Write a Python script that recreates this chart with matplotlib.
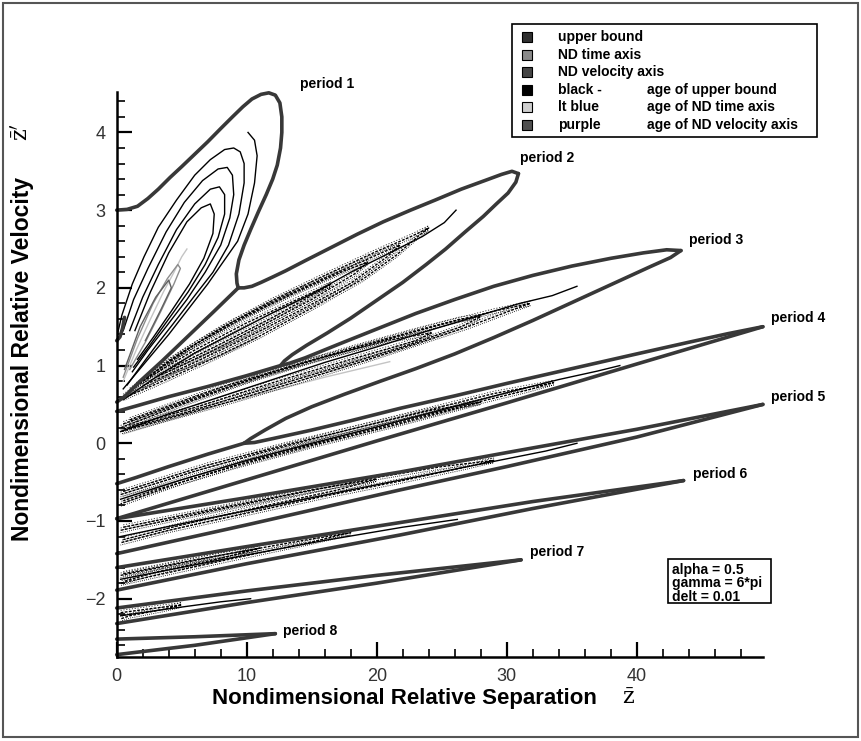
import matplotlib.pyplot as plt
from matplotlib.patches import Rectangle
from matplotlib.ticker import MultipleLocator

plt.rcParams['font.family'] = ['Liberation Sans', 'DejaVu Sans']
plt.rcParams['mathtext.fontset'] = 'dejavuserif'

EDGE = '#383838'

# thick period boundaries (x, y)
p1_outer = [(0, 3.0), (0.8, 3.01), (1.6, 3.05), (2.4, 3.15), (3.2, 3.27), (4.1, 3.42), (5.0, 3.56),
            (6.0, 3.72), (7.0, 3.88), (8.0, 4.05), (8.9, 4.2), (9.7, 4.33), (10.4, 4.43), (11.1, 4.49),
            (11.7, 4.51), (12.2, 4.48), (12.55, 4.38), (12.7, 4.2), (12.7, 4.0), (12.6, 3.8),
            (12.35, 3.58), (12.0, 3.4), (11.5, 3.2), (10.9, 2.98), (10.3, 2.75), (9.8, 2.55),
            (9.4, 2.36), (9.2, 2.18), (9.25, 2.06), (9.35, 2.0)]
p1_inner = [(0, 1.32), (0.25, 1.37), (0.45, 1.48), (0.6, 1.62)]
p2_upper = [(9.35, 2.0), (9.8, 2.0), (10.4, 2.02), (11.1, 2.07), (12, 2.14), (13, 2.22), (14.5, 2.35),
            (16.5, 2.52), (18.5, 2.69), (20.5, 2.85), (22.6, 3.0), (24.5, 3.13), (26.5, 3.27),
            (28.3, 3.38), (29.6, 3.46), (30.4, 3.5), (30.9, 3.47)]
p2_lower = [(30.9, 3.47), (30.7, 3.36), (30.1, 3.22), (29.2, 3.08), (28.2, 2.92), (26.8, 2.72),
            (25.3, 2.5), (23.8, 2.3), (22, 2.07), (20, 1.84), (18, 1.61), (16.2, 1.42), (14.6, 1.26),
            (13.5, 1.14), (12.9, 1.06), (12.6, 1.0)]
j1_line = [(9.35, 2.0), (7.5, 1.7), (5.5, 1.38), (3.5, 1.06), (1.8, 0.8), (0.6, 0.6), (0, 0.53)]
j2_line = [(12.6, 1.0), (10, 0.87), (7, 0.73), (4, 0.6), (1.5, 0.48), (0, 0.41)]
p3_upper = [(12.6, 1.0), (13.3, 1.03), (14.5, 1.1), (17, 1.27), (20, 1.47), (23, 1.67), (26, 1.85),
            (29, 2.02), (32, 2.16), (35, 2.28), (38, 2.38), (40.5, 2.45), (42.3, 2.49), (43.4, 2.48)]
p3_lower = [(43.4, 2.48), (42.6, 2.39), (41, 2.27), (38, 2.04), (35, 1.81), (32, 1.58), (29, 1.36),
            (26, 1.15), (23, 0.96), (20.3, 0.8), (17.5, 0.63), (15, 0.47), (13, 0.32), (11.4, 0.17),
            (10.3, 0.06), (9.8, 0.0)]
j3_line = [(9.8, 0.0), (7, -0.14), (4, -0.3), (1.5, -0.44), (0, -0.52)]
p4_upper = [(9.8, 0.0), (10.6, 0.01), (12, 0.06), (15, 0.17), (18, 0.29), (21.8, 0.45), (26, 0.61),
            (30, 0.77), (35, 0.96), (40, 1.15), (44, 1.3), (47, 1.41), (49.7, 1.5)]
p4_lower = [(0, -0.97), (10, -0.47), (20, 0.03), (30, 0.52), (40, 1.02), (49.7, 1.5)]
p5_upper = [(0, -0.97), (10, -0.7), (21.8, -0.37), (30, -0.12), (40, 0.18), (49.7, 0.5)]
p5_lower = [(0, -1.42), (10, -1.05), (21.8, -0.6), (30, -0.3), (40, 0.08), (49.7, 0.5)]
p6_upper = [(0, -1.6), (10, -1.33), (21.8, -1.02), (32, -0.75), (43.6, -0.48)]
p6_lower = [(0, -1.89), (10, -1.55), (21.8, -1.18), (32, -0.84), (43.6, -0.48)]
p7_upper = [(0, -2.12), (10, -1.9), (20, -1.7), (31.1, -1.5)]
p7_lower = [(0, -2.32), (10, -2.05), (20, -1.8), (31.1, -1.5)]
p8_upper = [(0, -2.52), (6, -2.49), (12.2, -2.45)]
p8_lower = [(0, -2.72), (6, -2.6), (12.2, -2.45)]

boundaries = [p1_outer, p1_inner, p2_upper, p2_lower, j1_line, j2_line, p3_upper, p3_lower, j3_line,
              p4_upper, p4_lower, p5_upper, p5_lower, p6_upper, p6_lower, p7_upper, p7_lower,
              p8_upper, p8_lower]

# period 1 inner contours (clean, solid)
p1_u1 = [(0.05, 1.4), (0.4, 1.65), (1.2, 2.05), (2.1, 2.4), (3.2, 2.78), (4.6, 3.13), (6.0, 3.45),
         (7.2, 3.65), (8.3, 3.78), (9.0, 3.8), (9.5, 3.75), (9.8, 3.6), (9.8, 3.35), (9.4, 2.95),
         (8.6, 2.55), (7.4, 2.2), (6.0, 1.9), (4.4, 1.55), (3.0, 1.25), (1.8, 0.98), (0.8, 0.75)]
p1_u2 = [(0.5, 1.45), (1.3, 1.85), (2.4, 2.25), (3.8, 2.72), (5.2, 3.1), (6.6, 3.38), (7.8, 3.53),
         (8.5, 3.55), (8.9, 3.45), (9.0, 3.2), (8.7, 2.9), (8.0, 2.55), (6.8, 2.2), (5.4, 1.85),
         (3.8, 1.5), (2.4, 1.2), (1.2, 0.92)]
p1_u3 = [(1.0, 1.45), (2.0, 1.88), (3.2, 2.3), (4.6, 2.75), (6.0, 3.08), (7.2, 3.27), (7.9, 3.3),
         (8.3, 3.2), (8.3, 2.95), (7.8, 2.65), (6.8, 2.3), (5.5, 1.95), (4.0, 1.6), (2.5, 1.25), (1.3, 0.98)]
p1_u4 = [(1.4, 1.45), (2.6, 1.95), (4.0, 2.45), (5.4, 2.85), (6.5, 3.03), (7.2, 3.08), (7.5, 2.95),
         (7.4, 2.7), (6.7, 2.38), (5.6, 2.05), (4.2, 1.7), (2.8, 1.36), (1.6, 1.08)]
p1_hook = [(10.1, 4.0), (10.6, 3.9), (10.8, 3.7), (10.6, 3.35), (10.1, 2.95), (9.3, 2.6), (7.0, 2.05),
           (4.0, 1.4), (1.5, 0.9), (0.5, 0.7)]
p1_gray_light = [(0.5, 0.8), (1.5, 1.2), (2.6, 1.6), (3.6, 1.95), (4.4, 2.2), (5.0, 2.4), (5.4, 2.5)]
p1_gray_mid = [(0.5, 0.85), (1.6, 1.35), (2.8, 1.8), (3.9, 2.12), (4.7, 2.3), (4.9, 2.25), (4.4, 2.05),
               (3.4, 1.7), (2.2, 1.3), (1.0, 0.95)]
p1_gray_dark = [(0.6, 0.95), (1.8, 1.5), (3.0, 1.88), (4.0, 2.1), (4.2, 2.0), (3.4, 1.72), (2.2, 1.32)]

# inner contours of periods 2-8 (dense, broken-looking)
p2_hook = [(0.5, 0.56), (3, 0.85), (6, 1.16), (9, 1.42), (12, 1.68), (15, 1.92), (18, 2.2), (21, 2.45),
           (23.5, 2.66), (25.2, 2.84), (26.1, 3.0)]
p2_c1 = [(0.5, 0.6), (4, 1.06), (8, 1.48), (12, 1.84), (16, 2.16), (20, 2.47), (22.5, 2.65), (24.0, 2.77),
         (23.3, 2.68), (21.5, 2.42), (19, 2.12), (15, 1.74), (11, 1.38), (7, 1.06), (3, 0.76), (0.5, 0.58)]
p2_c2 = [(1, 0.68), (5, 1.17), (9, 1.57), (13, 1.9), (17, 2.2), (20.5, 2.46), (21.8, 2.55), (20.8, 2.4),
         (18, 2.06), (14, 1.7), (10, 1.36), (6, 1.04), (2, 0.74)]
p2_c3 = [(1.5, 0.75), (6, 1.27), (10, 1.64), (14, 1.96), (17.5, 2.22), (19.3, 2.33), (18.3, 2.18),
         (15, 1.85), (11, 1.5), (7, 1.16), (3, 0.85)]
p2_c4 = [(2, 0.8), (6, 1.2), (10, 1.55), (14, 1.86), (16.5, 2.05), (15.5, 1.95), (12, 1.62), (8, 1.28),
         (4, 0.95)]
p2_gray_light = [(0.6, 0.6), (4, 0.93), (8, 1.23), (11.8, 1.5)]
p2_gray_mid = [(0.6, 0.58), (4, 0.88), (8, 1.13), (10.8, 1.36)]

p3_hook = [(0.3, 0.15), (4, 0.38), (8, 0.6), (12, 0.82), (16, 1.04), (20, 1.24), (24, 1.45), (28, 1.65),
           (31, 1.8), (33.5, 1.9), (35.4, 2.02)]
p3_c1 = [(0.3, 0.2), (5, 0.5), (10, 0.8), (15, 1.06), (20, 1.3), (25, 1.53), (29, 1.7), (31.8, 1.8),
         (30.5, 1.72), (27, 1.5), (23, 1.28), (19, 1.06), (14, 0.8), (9, 0.55), (4, 0.32), (0.3, 0.15)]
p3_c2 = [(0.5, 0.25), (6, 0.58), (12, 0.92), (18, 1.22), (23, 1.45), (26.5, 1.6), (28, 1.63),
         (26.5, 1.5), (22, 1.24), (17, 0.98), (11, 0.68), (5, 0.38), (0.5, 0.18)]
p3_c3 = [(1, 0.3), (8, 0.72), (15, 1.07), (21, 1.33), (24.2, 1.42), (23, 1.32), (18, 1.08), (12, 0.78),
         (6, 0.46), (1, 0.22)]
p3_gray = [(0.5, 0.12), (8, 0.5), (16, 0.85), (21, 1.05)]

p4_hook = [(0.3, -0.72), (5, -0.47), (10, -0.22), (15, 0.0), (20, 0.21), (25, 0.43), (30, 0.65),
           (34, 0.82), (37, 0.93), (38.7, 1.0)]
p4_c1 = [(0.3, -0.66), (6, -0.36), (12, -0.08), (18, 0.18), (24, 0.43), (29, 0.64), (33.6, 0.78),
         (31.5, 0.68), (27, 0.5), (22, 0.28), (16, 0.03), (10, -0.24), (5, -0.5), (0.3, -0.78)]
p4_c2 = [(0.5, -0.62), (7, -0.28), (13, -0.02), (19, 0.22), (24, 0.42), (28, 0.53), (26, 0.44),
         (21, 0.22), (15, -0.03), (9, -0.3), (3, -0.6), (0.5, -0.74)]
p4_gray = [(0.5, -0.68), (6, -0.42), (12, -0.14), (17, 0.07)]

p5_hook = [(0.3, -1.2), (6, -1.0), (12, -0.8), (18, -0.6), (24, -0.4), (30, -0.2), (33, -0.1), (35.4, 0.0)]
p5_c1 = [(0.3, -1.12), (7, -0.88), (14, -0.64), (20, -0.44), (25, -0.3), (29, -0.22), (27, -0.3),
         (22, -0.48), (16, -0.68), (10, -0.9), (4, -1.12), (0.3, -1.28)]
p5_c2 = [(0.5, -1.08), (8, -0.83), (15, -0.6), (20, -0.46), (17, -0.6), (11, -0.82), (5, -1.05), (0.5, -1.24)]

p6_hook = [(0.3, -1.75), (8, -1.5), (16, -1.25), (22, -1.08), (26.2, -0.98)]
p6_c1 = [(0.3, -1.7), (8, -1.44), (14, -1.26), (18, -1.15), (15, -1.27), (9, -1.48), (3, -1.7), (0.3, -1.8)]
p6_c2 = [(0.5, -1.68), (6, -1.5), (11, -1.35), (8, -1.48), (3, -1.66), (0.5, -1.78)]

p7_hook = [(0.3, -2.22), (4, -2.13), (8, -2.04), (10.3, -2.0)]
p7_c1 = [(0.3, -2.18), (3, -2.12), (5, -2.08), (3.5, -2.14), (1, -2.22), (0.3, -2.26)]

clean_lines = [p1_u1, p1_u2, p1_u3, p1_u4, p1_hook, p2_hook, p3_hook, p4_hook, p5_hook, p6_hook, p7_hook]
broken_lines = [p2_c1, p2_c2, p2_c3, p2_c4, p3_c1, p3_c2, p3_c3, p4_c1, p4_c2, p5_c1, p5_c2, p6_c1,
                p6_c2, p7_c1]
gray_lines = [(p1_gray_light, '#c4c4c4'), (p1_gray_mid, '#8c8c8c'), (p1_gray_dark, '#606060'),
              (p2_gray_light, '#c4c4c4'), (p2_gray_mid, '#8c8c8c'), (p3_gray, '#c4c4c4'),
              (p4_gray, '#c4c4c4')]

# period labels: text, x, y
period_names = ['period 1', 'period 2', 'period 3', 'period 4', 'period 5', 'period 6', 'period 7', 'period 8']
period_x = [14.1, 31.0, 44.0, 50.3, 50.3, 44.3, 31.8, 12.8]
period_y = [4.62, 3.67, 2.61, 1.61, 0.6, -0.39, -1.40, -2.41]

legend_labels = ['upper bound', 'ND time axis', 'ND velocity axis', 'black -', 'lt blue', 'purple']
legend_tails = ['', '', '', 'age of upper bound', 'age of ND time axis', 'age of ND velocity axis']
legend_colors = ['#303030', '#8a8a8a', '#444444', '#000000', '#cfcfcf', '#505050']

params = ['alpha = 0.5', 'gamma = 6*pi', 'delt = 0.01']

fig = plt.figure(figsize=(8.62, 7.41), dpi=100)
ax = fig.add_axes([0.1354, 0.1134, 0.7496, 0.7624])

for line, col in gray_lines:
    xs, ys = zip(*line)
    ax.plot(xs, ys, color=col, lw=1.0)
for line in broken_lines:
    xs, ys = zip(*line)
    ax.plot(xs, ys, color='black', lw=1.0, dashes=(2.0, 1.0))
    ax.plot(xs, [y - 0.03 for y in ys], color='black', lw=0.7, dashes=(0.8, 1.4))
    ax.plot(xs, [y + 0.03 for y in ys], color='#222222', lw=0.6, dashes=(1.4, 2.0))
for line in clean_lines:
    xs, ys = zip(*line)
    ax.plot(xs, ys, color='black', lw=1.0)
for line in boundaries:
    xs, ys = zip(*line)
    ax.plot(xs, ys, color=EDGE, lw=2.6, solid_capstyle='round', solid_joinstyle='round', clip_on=False)

for name, x, y in zip(period_names, period_x, period_y):
    ax.text(x, y, name, fontsize=10, fontweight='bold', ha='left', va='center', clip_on=False)

ax.set_xlim(0, 49.7)
ax.set_ylim(-2.75, 4.52)
for side in ['top', 'right']:
    ax.spines[side].set_visible(False)
for side in ['left', 'bottom']:
    ax.spines[side].set_linewidth(1.8)
ax.xaxis.set_major_locator(MultipleLocator(10))
ax.xaxis.set_minor_locator(MultipleLocator(2))
ax.yaxis.set_major_locator(MultipleLocator(1))
ax.yaxis.set_minor_locator(MultipleLocator(0.2))
ax.tick_params(which='major', direction='in', length=11, width=1.6, labelsize=13,
               labelcolor='#333333', pad=8)
ax.tick_params(which='minor', direction='in', length=6, width=1.2)

fig.text(0.469, 0.057, 'Nondimensional Relative Separation', fontsize=16, fontweight='bold',
         ha='center', va='center')
fig.text(0.7285, 0.057, r'$\bar{\mathrm{z}}$', fontsize=16, ha='center', va='center')
fig.text(0.026, 0.515, 'Nondimensional Relative Velocity', fontsize=16.5, fontweight='bold',
         rotation=90, ha='center', va='center')
fig.text(0.026, 0.822, r"$\bar{\mathrm{z}}'$", fontsize=16, rotation=90, ha='center', va='center')

# legend box
fig.patches.append(Rectangle((512 / 862, 1 - 137 / 741), 305 / 862, 113 / 741, transform=fig.transFigure,
                             fill=False, edgecolor='black', lw=1.2))
for i, (lab, tail, col) in enumerate(zip(legend_labels, legend_tails, legend_colors)):
    yy = 1 - (37 + 17.6 * i) / 741
    fig.patches.append(Rectangle((522 / 862, yy - 5 / 741), 10 / 862, 10 / 741, transform=fig.transFigure,
                                 facecolor=col, edgecolor='black', lw=0.8))
    fig.text(558 / 862, yy, lab, fontsize=10, fontweight='bold', va='center')
    if tail:
        fig.text(647 / 862, yy, tail, fontsize=10, fontweight='bold', va='center')

# parameter box
fig.patches.append(Rectangle((668 / 862, 1 - 603 / 741), 103 / 862, 44 / 741, transform=fig.transFigure,
                             fill=False, edgecolor='black', lw=1.2))
for i, p in enumerate(params):
    fig.text(672 / 862, 1 - (570 + 13.5 * i) / 741, p, fontsize=10, fontweight='bold', va='center')

# outer frame
fig.patches.append(Rectangle((3 / 862, 4 / 741), 855 / 862, 734 / 741, transform=fig.transFigure,
                             fill=False, edgecolor='#555555', lw=1.5))

fig.savefig('out.png', dpi=100)
